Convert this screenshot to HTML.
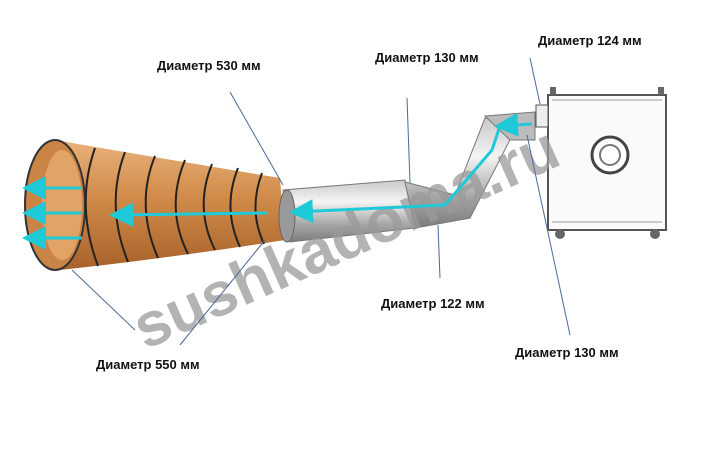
<!DOCTYPE html>
<html><head><meta charset="utf-8"><style>
html,body{margin:0;padding:0;background:#fff;}
svg{display:block;}
text{font-family:"Liberation Sans",sans-serif;}
</style></head><body>
<svg width="715" height="457" viewBox="0 0 715 457" xmlns="http://www.w3.org/2000/svg">
<defs>
<linearGradient id="org" x1="0" y1="0" x2="0" y2="1">
<stop offset="0" stop-color="#e9b27a"/><stop offset="0.45" stop-color="#d08a48"/><stop offset="1" stop-color="#a8622a"/>
</linearGradient>
<linearGradient id="met" x1="0" y1="0" x2="0" y2="1">
<stop offset="0" stop-color="#c9c9c9"/><stop offset="0.35" stop-color="#f4f4f4"/><stop offset="0.7" stop-color="#a9a9a9"/><stop offset="1" stop-color="#7c7c7c"/>
</linearGradient>
<marker id="ah" markerWidth="8" markerHeight="8" refX="6" refY="4" orient="auto"><path d="M0,0 L8,4 L0,8 Z" fill="#1fc9d8"/></marker>
</defs>
<!-- duct -->
<path d="M55,140 Q170,160 280,178 L285,240 Q170,258 60,270 Z" fill="url(#org)"/>
<ellipse cx="55" cy="205" rx="30" ry="65" fill="#c98446" stroke="#333" stroke-width="2"/>
<ellipse cx="62" cy="205" rx="20" ry="55" fill="#e2a466"/>
<g fill="none" stroke="#222" stroke-width="2">
<path d="M95,148 Q75,205 98,266"/><path d="M125,152 Q105,205 128,262"/><path d="M155,156 Q135,205 158,258"/>
<path d="M185,160 Q165,208 188,254"/><path d="M212,164 Q194,208 215,250"/><path d="M238,168 Q222,208 240,247"/><path d="M262,173 Q248,210 264,244"/>
</g>
<!-- metal pipe -->
<path d="M283,190 L405,180 L415,228 L290,242 Z" fill="url(#met)" stroke="#777"/>
<ellipse cx="287" cy="216" rx="8" ry="26" fill="#999" stroke="#666"/>
<path d="M405,182 L455,195 L485,118 L520,120 L470,218 L415,228 Z" fill="url(#met)" stroke="#777"/>
<path d="M485,116 L535,112 L535,140 L510,140 Z" fill="#bbb" stroke="#777"/>
<!-- machine -->
<rect x="548" y="95" width="118" height="135" fill="#fafafa" stroke="#555" stroke-width="2"/>
<rect x="536" y="105" width="12" height="22" fill="#eee" stroke="#555"/>
<line x1="552" y1="100" x2="662" y2="100" stroke="#999"/>
<line x1="552" y1="222" x2="662" y2="222" stroke="#999"/>
<circle cx="610" cy="155" r="18" fill="#fff" stroke="#444" stroke-width="3"/>
<circle cx="610" cy="155" r="10" fill="#fff" stroke="#777" stroke-width="2"/>
<rect x="550" y="87" width="6" height="8" fill="#666"/><rect x="658" y="87" width="6" height="8" fill="#666"/>
<circle cx="560" cy="234" r="5" fill="#666"/><circle cx="655" cy="234" r="5" fill="#666"/>
<!-- watermark -->
<text x="0" y="0" transform="translate(145,350) rotate(-24)" font-size="62" font-weight="bold" fill="#9a9a9a" fill-opacity="0.75">sushkadoma.ru</text>
<!-- cyan arrows -->
<g stroke="#1fc9d8" stroke-width="3" fill="none" marker-end="url(#ah)">
<line x1="82" y1="188" x2="28" y2="188"/><line x1="82" y1="213" x2="28" y2="213"/><line x1="82" y1="238" x2="28" y2="238"/>
<line x1="268" y1="213" x2="115" y2="215"/>
<polyline points="492,150 445,205 295,212"/>
<line x1="532" y1="124" x2="500" y2="126"/>
</g>
<line x1="492" y1="150" x2="500" y2="126" stroke="#1fc9d8" stroke-width="3"/>
<!-- leaders -->
<g stroke="#4a6a9a" stroke-width="1" fill="none">
<line x1="230" y1="92" x2="283" y2="185"/>
<line x1="407" y1="98" x2="410" y2="183"/>
<line x1="530" y1="58" x2="540" y2="104"/>
<line x1="440" y1="278" x2="438" y2="225"/>
<line x1="570" y1="335" x2="527" y2="135"/>
<line x1="135" y1="330" x2="72" y2="270"/>
<line x1="180" y1="345" x2="265" y2="240"/>
</g>
<g font-size="13" font-weight="bold" fill="#111">
<text x="538" y="45">Диаметр 124 мм</text>
<text x="157" y="70">Диаметр 530 мм</text>
<text x="375" y="62">Диаметр 130 мм</text>
<text x="381" y="308">Диаметр 122 мм</text>
<text x="515" y="357">Диаметр 130 мм</text>
<text x="96" y="369">Диаметр 550 мм</text>
</g>
</svg>
</body></html>
